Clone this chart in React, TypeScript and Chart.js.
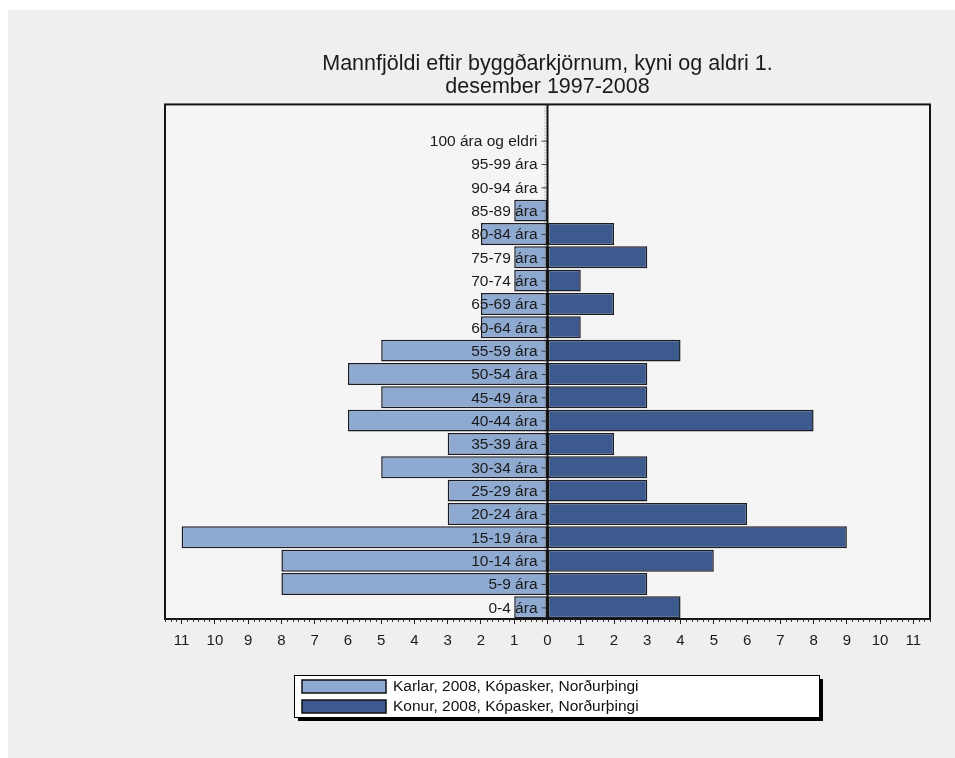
import React, { useEffect, useRef } from "react";
import { Chart, registerables } from "chart.js";

Chart.register(...registerables);

const titleLines = ["Mannfjöldi eftir byggðarkjörnum, kyni og aldri 1.", "desember 1997-2008"];

const ageGroups = [
  "0-4 ára", "5-9 ára", "10-14 ára", "15-19 ára", "20-24 ára", "25-29 ára", "30-34 ára",
  "35-39 ára", "40-44 ára", "45-49 ára", "50-54 ára", "55-59 ára", "60-64 ára", "65-69 ára",
  "70-74 ára", "75-79 ára", "80-84 ára", "85-89 ára", "90-94 ára", "95-99 ára", "100 ára og eldri",
];

const karlar = [1, 8, 8, 11, 3, 3, 5, 3, 6, 5, 6, 5, 2, 2, 1, 1, 2, 1, 0, 0, 0];
const konur = [4, 3, 5, 9, 6, 3, 3, 2, 8, 3, 3, 4, 1, 2, 1, 3, 2, 0, 0, 0, 0];

const karlarLabel = "Karlar, 2008, Kópasker, Norðurþingi";
const konurLabel = "Konur, 2008, Kópasker, Norðurþingi";

const xMin = -11.5;
const xMax = 11.5;

const FONT = "'Liberation Sans', Arial, sans-serif";

const decor = {
  id: "decor",
  beforeDraw(chart: any) {
    const { ctx, chartArea: a } = chart;
    ctx.save();
    ctx.fillStyle = "#efefef";
    ctx.fillRect(0, 0, chart.width, chart.height);
    ctx.fillStyle = "#f5f5f5";
    ctx.fillRect(a.left, a.top, a.right - a.left, a.bottom - a.top);
    ctx.restore();
  },
  afterDatasetsDraw(chart: any) {
    const { ctx, chartArea: a } = chart;
    const xs = chart.scales.x;
    const ys = chart.scales.y;
    const x0 = xs.getPixelForValue(0);
    ctx.save();
    ctx.strokeStyle = "#777";
    ctx.lineWidth = 1;
    ctx.setLineDash([1, 2]);
    ctx.beginPath();
    ctx.moveTo(x0 - 2.5, a.top);
    ctx.lineTo(x0 - 2.5, a.bottom);
    ctx.stroke();
    ctx.setLineDash([]);
    ctx.font = `15.5px ${FONT}`;
    ctx.textAlign = "right";
    ctx.textBaseline = "middle";
    ageGroups.forEach((g, i) => {
      const y = ys.getPixelForValue(i);
      ctx.strokeStyle = "#444";
      ctx.beginPath();
      ctx.moveTo(x0 - 6, y + 0.5);
      ctx.lineTo(x0, y + 0.5);
      ctx.stroke();
      ctx.fillStyle = "#1a1a1a";
      ctx.fillText(g, x0 - 10, y + 1);
    });
    ctx.strokeStyle = "#111";
    ctx.lineWidth = 2;
    ctx.beginPath();
    ctx.moveTo(x0, a.top);
    ctx.lineTo(x0, a.bottom);
    ctx.stroke();
    ctx.restore();
  },
  afterDraw(chart: any) {
    const { ctx, chartArea: a } = chart;
    const xs = chart.scales.x;
    ctx.save();
    ctx.strokeStyle = "#151515";
    ctx.lineWidth = 2;
    ctx.strokeRect(a.left, a.top, a.right - a.left, a.bottom - a.top);
    ctx.lineWidth = 1;
    ctx.strokeStyle = "#333";
    for (let k = Math.ceil(xMin * 6); k <= Math.floor(xMax * 6); k++) {
      if (k % 6 === 0) continue;
      const px = Math.round(xs.getPixelForValue(k / 6)) + 0.5;
      ctx.beginPath();
      ctx.moveTo(px, a.bottom);
      ctx.lineTo(px, a.bottom + 3);
      ctx.stroke();
    }
    const bx = 286, by = a.bottom + 56, bw = 525, bh = 42;
    ctx.fillStyle = "#000";
    ctx.fillRect(bx + 4, by + 4, bw, bh);
    ctx.fillStyle = "#fff";
    ctx.fillRect(bx, by, bw, bh);
    ctx.strokeStyle = "#000";
    ctx.lineWidth = 1;
    ctx.strokeRect(bx + 0.5, by + 0.5, bw, bh);
    ctx.font = `15.5px ${FONT}`;
    ctx.textAlign = "left";
    ctx.textBaseline = "middle";
    chart.data.datasets.forEach((ds: any, i: number) => {
      const ry = by + 5 + i * 20;
      ctx.fillStyle = ds.backgroundColor;
      ctx.fillRect(bx + 8, ry, 84, 13);
      ctx.strokeStyle = "#111";
      ctx.lineWidth = 1.5;
      ctx.strokeRect(bx + 8, ry, 84, 13);
      ctx.fillStyle = "#111";
      ctx.fillText(ds.label, bx + 99, ry + 7);
    });
    ctx.restore();
  },
};

export default function App() {
  const ref = useRef<HTMLCanvasElement | null>(null);

  useEffect(() => {
    if (!ref.current) return;
    const chart = new Chart(ref.current, {
      type: "bar",
      data: {
        datasets: [
          {
            label: karlarLabel,
            data: karlar.map((v, i) => ({ x: -v, y: i })),
            backgroundColor: "#8faad0",
            borderColor: "#1c1c24",
            borderWidth: 1.5,
            borderSkipped: false,
            grouped: false,
            categoryPercentage: 1,
            barPercentage: 0.94,
          } as any,
          {
            label: konurLabel,
            data: konur.map((v, i) => ({ x: v, y: i })),
            backgroundColor: "#3d5a8e",
            borderColor: "#1c1c24",
            borderWidth: 1.5,
            borderSkipped: false,
            grouped: false,
            categoryPercentage: 1,
            barPercentage: 0.94,
          } as any,
        ],
      },
      options: {
        indexAxis: "y",
        animation: false,
        responsive: true,
        maintainAspectRatio: false,
        layout: { padding: { left: 157, right: 25, top: 0, bottom: 100 } },
        plugins: {
          legend: { display: false },
          tooltip: { enabled: false },
          title: {
            display: true,
            text: titleLines,
            color: "#1a1a1a",
            font: { family: FONT, size: 21.5, weight: "normal", lineHeight: 1.08 },
            padding: { top: 42, bottom: 6 },
          },
        },
        scales: {
          x: {
            type: "linear",
            min: xMin,
            max: xMax,
            afterBuildTicks: (scale: any) => {
              const t = [];
              for (let v = -11; v <= 11; v++) t.push({ value: v });
              scale.ticks = t;
            },
            ticks: {
              callback: (v: any) => String(Math.abs(Number(v))),
              color: "#1a1a1a",
              font: { family: FONT, size: 15 },
              padding: 8,
              maxRotation: 0,
              autoSkip: false,
            },
            grid: { drawOnChartArea: false, tickLength: 5, color: "#222", tickWidth: 1 },
            border: { display: true, color: "#111", width: 2 },
          },
          y: {
            type: "linear",
            min: -0.5,
            max: 21.55,
            offset: false,
            display: false,
          },
        },
      } as any,
      plugins: [decor],
    });
    return () => chart.destroy();
  }, []);

  return (
    <div style={{ position: "absolute", left: 8, top: 10, width: 947, height: 748, background: "#efefef" }}>
      <canvas ref={ref} />
    </div>
  );
}
